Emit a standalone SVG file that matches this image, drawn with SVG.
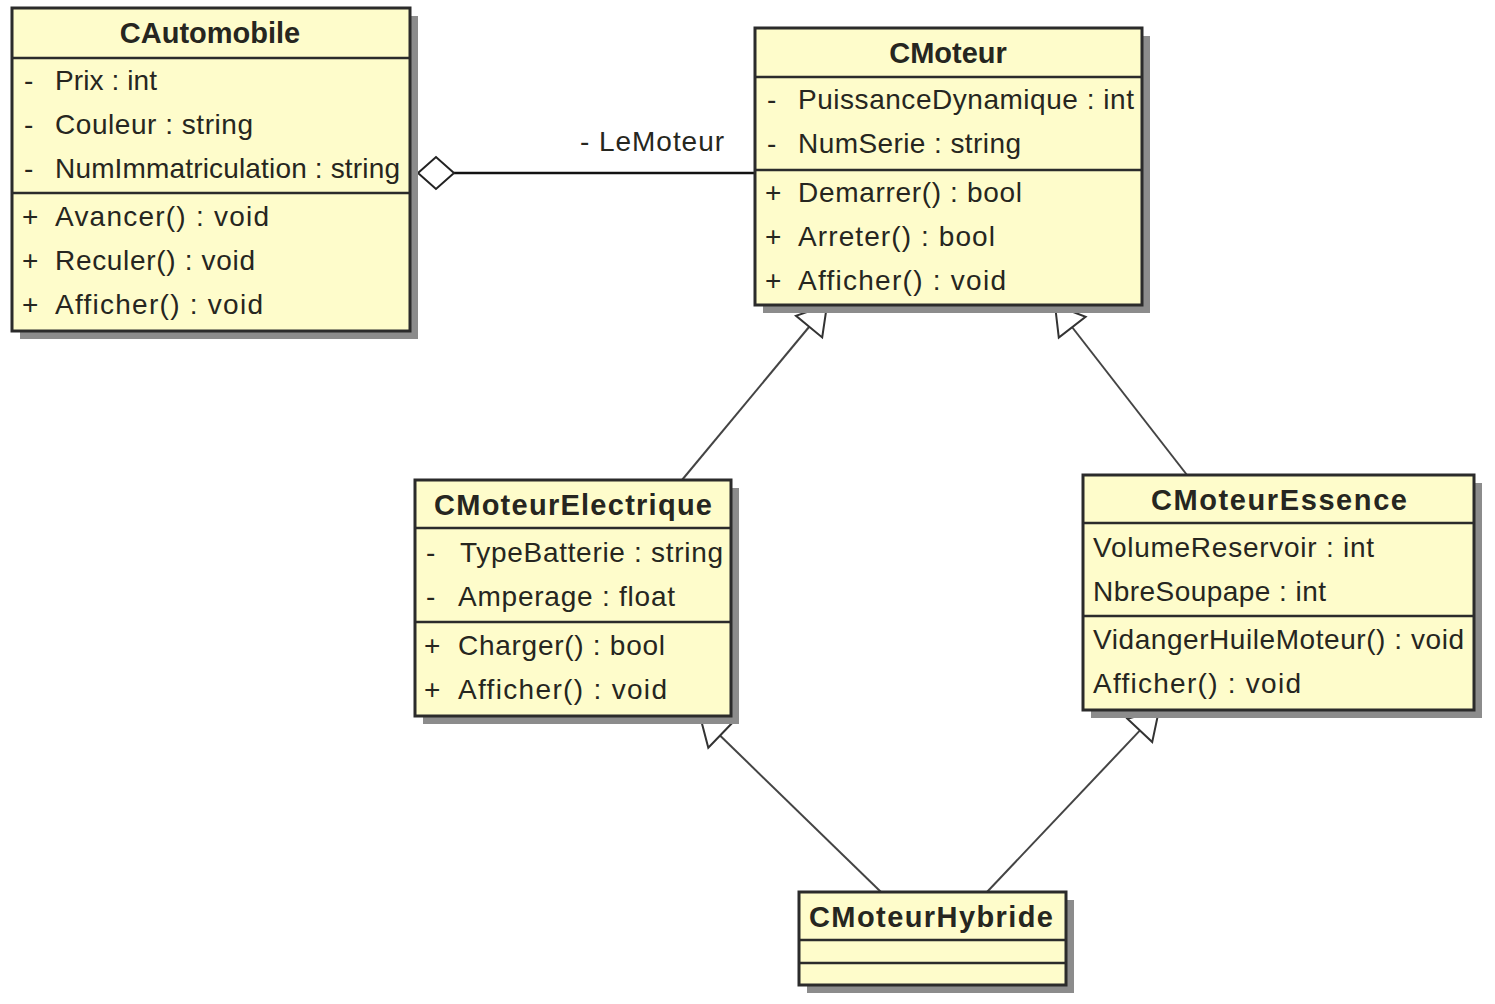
<svg xmlns="http://www.w3.org/2000/svg" width="1495" height="1004" viewBox="0 0 1495 1004">
<style>
.shadow{fill:#8c8c8c}
.box{fill:#fefccb;stroke:#2b2b2b;stroke-width:3}
.sep{stroke:#2b2b2b;stroke-width:2.5}
.t{font-family:"Liberation Sans",Arial,sans-serif;font-size:28px;fill:#262620}
.title{font-family:"Liberation Sans",Arial,sans-serif;font-size:29px;font-weight:bold;fill:#262620;text-anchor:middle}
.gen{stroke:#444;stroke-width:2;fill:none}
.tri{fill:#fff;stroke:#333;stroke-width:2}
.assoc{stroke:#111;stroke-width:2.5;fill:none}
</style>
<rect width="1495" height="1004" fill="#fff"/>
<g id="connectors">
  <line class="gen" x1="682" y1="480" x2="809" y2="327"/>
  <polygon class="tri" points="827,305 822.2,337.4 796,315.8"/>
  <line class="gen" x1="1187" y1="475" x2="1072" y2="327"/>
  <polygon class="tri" points="1055,305 1085.6,316.7 1058.8,337.5"/>
  <line class="gen" x1="881" y1="892" x2="720" y2="735.5"/>
  <polygon class="tri" points="700,716 731.9,723.3 708.3,747.7"/>
  <line class="gen" x1="987" y1="892" x2="1140" y2="730.4"/>
  <polygon class="tri" points="1159,710 1152.2,742.1 1127.4,718.7"/>
  <line class="assoc" x1="454" y1="173" x2="755" y2="173"/>
  <polygon fill="#fff" stroke="#222" stroke-width="2" points="418,173 436,157 454,173 436,189"/>
  <text class="t" x="580" y="151" textLength="144">- LeMoteur</text>
</g>
<g id="CAutomobile">
  <rect class="shadow" x="20" y="16" width="398" height="323"/>
  <rect class="box" x="12" y="8" width="398" height="323"/>
  <line class="sep" x1="12" y1="58" x2="410" y2="58"/>
  <line class="sep" x1="12" y1="193" x2="410" y2="193"/>
  <text class="title" x="210" y="43">CAutomobile</text>
  <text class="t" x="24" y="90">-</text><text class="t" x="55" y="90" textLength="102">Prix : int</text>
  <text class="t" x="24" y="134">-</text><text class="t" x="55" y="134" textLength="198">Couleur : string</text>
  <text class="t" x="24" y="178">-</text><text class="t" x="55" y="178" textLength="345">NumImmatriculation : string</text>
  <text class="t" x="22" y="226">+</text><text class="t" x="55" y="226" textLength="214">Avancer() : void</text>
  <text class="t" x="22" y="270">+</text><text class="t" x="55" y="270" textLength="200">Reculer() : void</text>
  <text class="t" x="22" y="314">+</text><text class="t" x="55" y="314" textLength="208">Afficher() : void</text>
</g>
<g id="CMoteur">
  <rect class="shadow" x="763" y="36" width="387" height="277"/>
  <rect class="box" x="755" y="28" width="387" height="277"/>
  <line class="sep" x1="755" y1="77" x2="1142" y2="77"/>
  <line class="sep" x1="755" y1="170" x2="1142" y2="170"/>
  <text class="title" x="948" y="63">CMoteur</text>
  <text class="t" x="767" y="109">-</text><text class="t" x="798" y="109" textLength="336">PuissanceDynamique : int</text>
  <text class="t" x="767" y="153">-</text><text class="t" x="798" y="153" textLength="223">NumSerie : string</text>
  <text class="t" x="765" y="202">+</text><text class="t" x="798" y="202" textLength="224">Demarrer() : bool</text>
  <text class="t" x="765" y="246">+</text><text class="t" x="798" y="246" textLength="197">Arreter() : bool</text>
  <text class="t" x="765" y="290">+</text><text class="t" x="798" y="290" textLength="208">Afficher() : void</text>
</g>
<g id="CMoteurElectrique">
  <rect class="shadow" x="423" y="488" width="316" height="236"/>
  <rect class="box" x="415" y="480" width="316" height="236"/>
  <line class="sep" x1="415" y1="528" x2="731" y2="528"/>
  <line class="sep" x1="415" y1="622" x2="731" y2="622"/>
  <text class="title" x="573" y="515" textLength="278">CMoteurElectrique</text>
  <text class="t" x="426" y="562">-</text><text class="t" x="460" y="562" textLength="263">TypeBatterie : string</text>
  <text class="t" x="426" y="606">-</text><text class="t" x="458" y="606" textLength="217">Amperage : float</text>
  <text class="t" x="424" y="655">+</text><text class="t" x="458" y="655" textLength="207">Charger() : bool</text>
  <text class="t" x="424" y="699">+</text><text class="t" x="458" y="699" textLength="209">Afficher() : void</text>
</g>
<g id="CMoteurEssence">
  <rect class="shadow" x="1091" y="483" width="391" height="235"/>
  <rect class="box" x="1083" y="475" width="391" height="235"/>
  <line class="sep" x1="1083" y1="523" x2="1474" y2="523"/>
  <line class="sep" x1="1083" y1="616" x2="1474" y2="616"/>
  <text class="title" x="1279" y="510" textLength="256">CMoteurEssence</text>
  <text class="t" x="1093" y="557" textLength="281">VolumeReservoir : int</text>
  <text class="t" x="1093" y="601" textLength="233">NbreSoupape : int</text>
  <text class="t" x="1093" y="649" textLength="371">VidangerHuileMoteur() : void</text>
  <text class="t" x="1093" y="693" textLength="208">Afficher() : void</text>
</g>
<g id="CMoteurHybride">
  <rect class="shadow" x="807" y="900" width="267" height="93"/>
  <rect class="box" x="799" y="892" width="267" height="93"/>
  <line class="sep" x1="799" y1="940" x2="1066" y2="940"/>
  <line class="sep" x1="799" y1="963" x2="1066" y2="963"/>
  <text class="title" x="931" y="927" textLength="244">CMoteurHybride</text>
</g>
</svg>
